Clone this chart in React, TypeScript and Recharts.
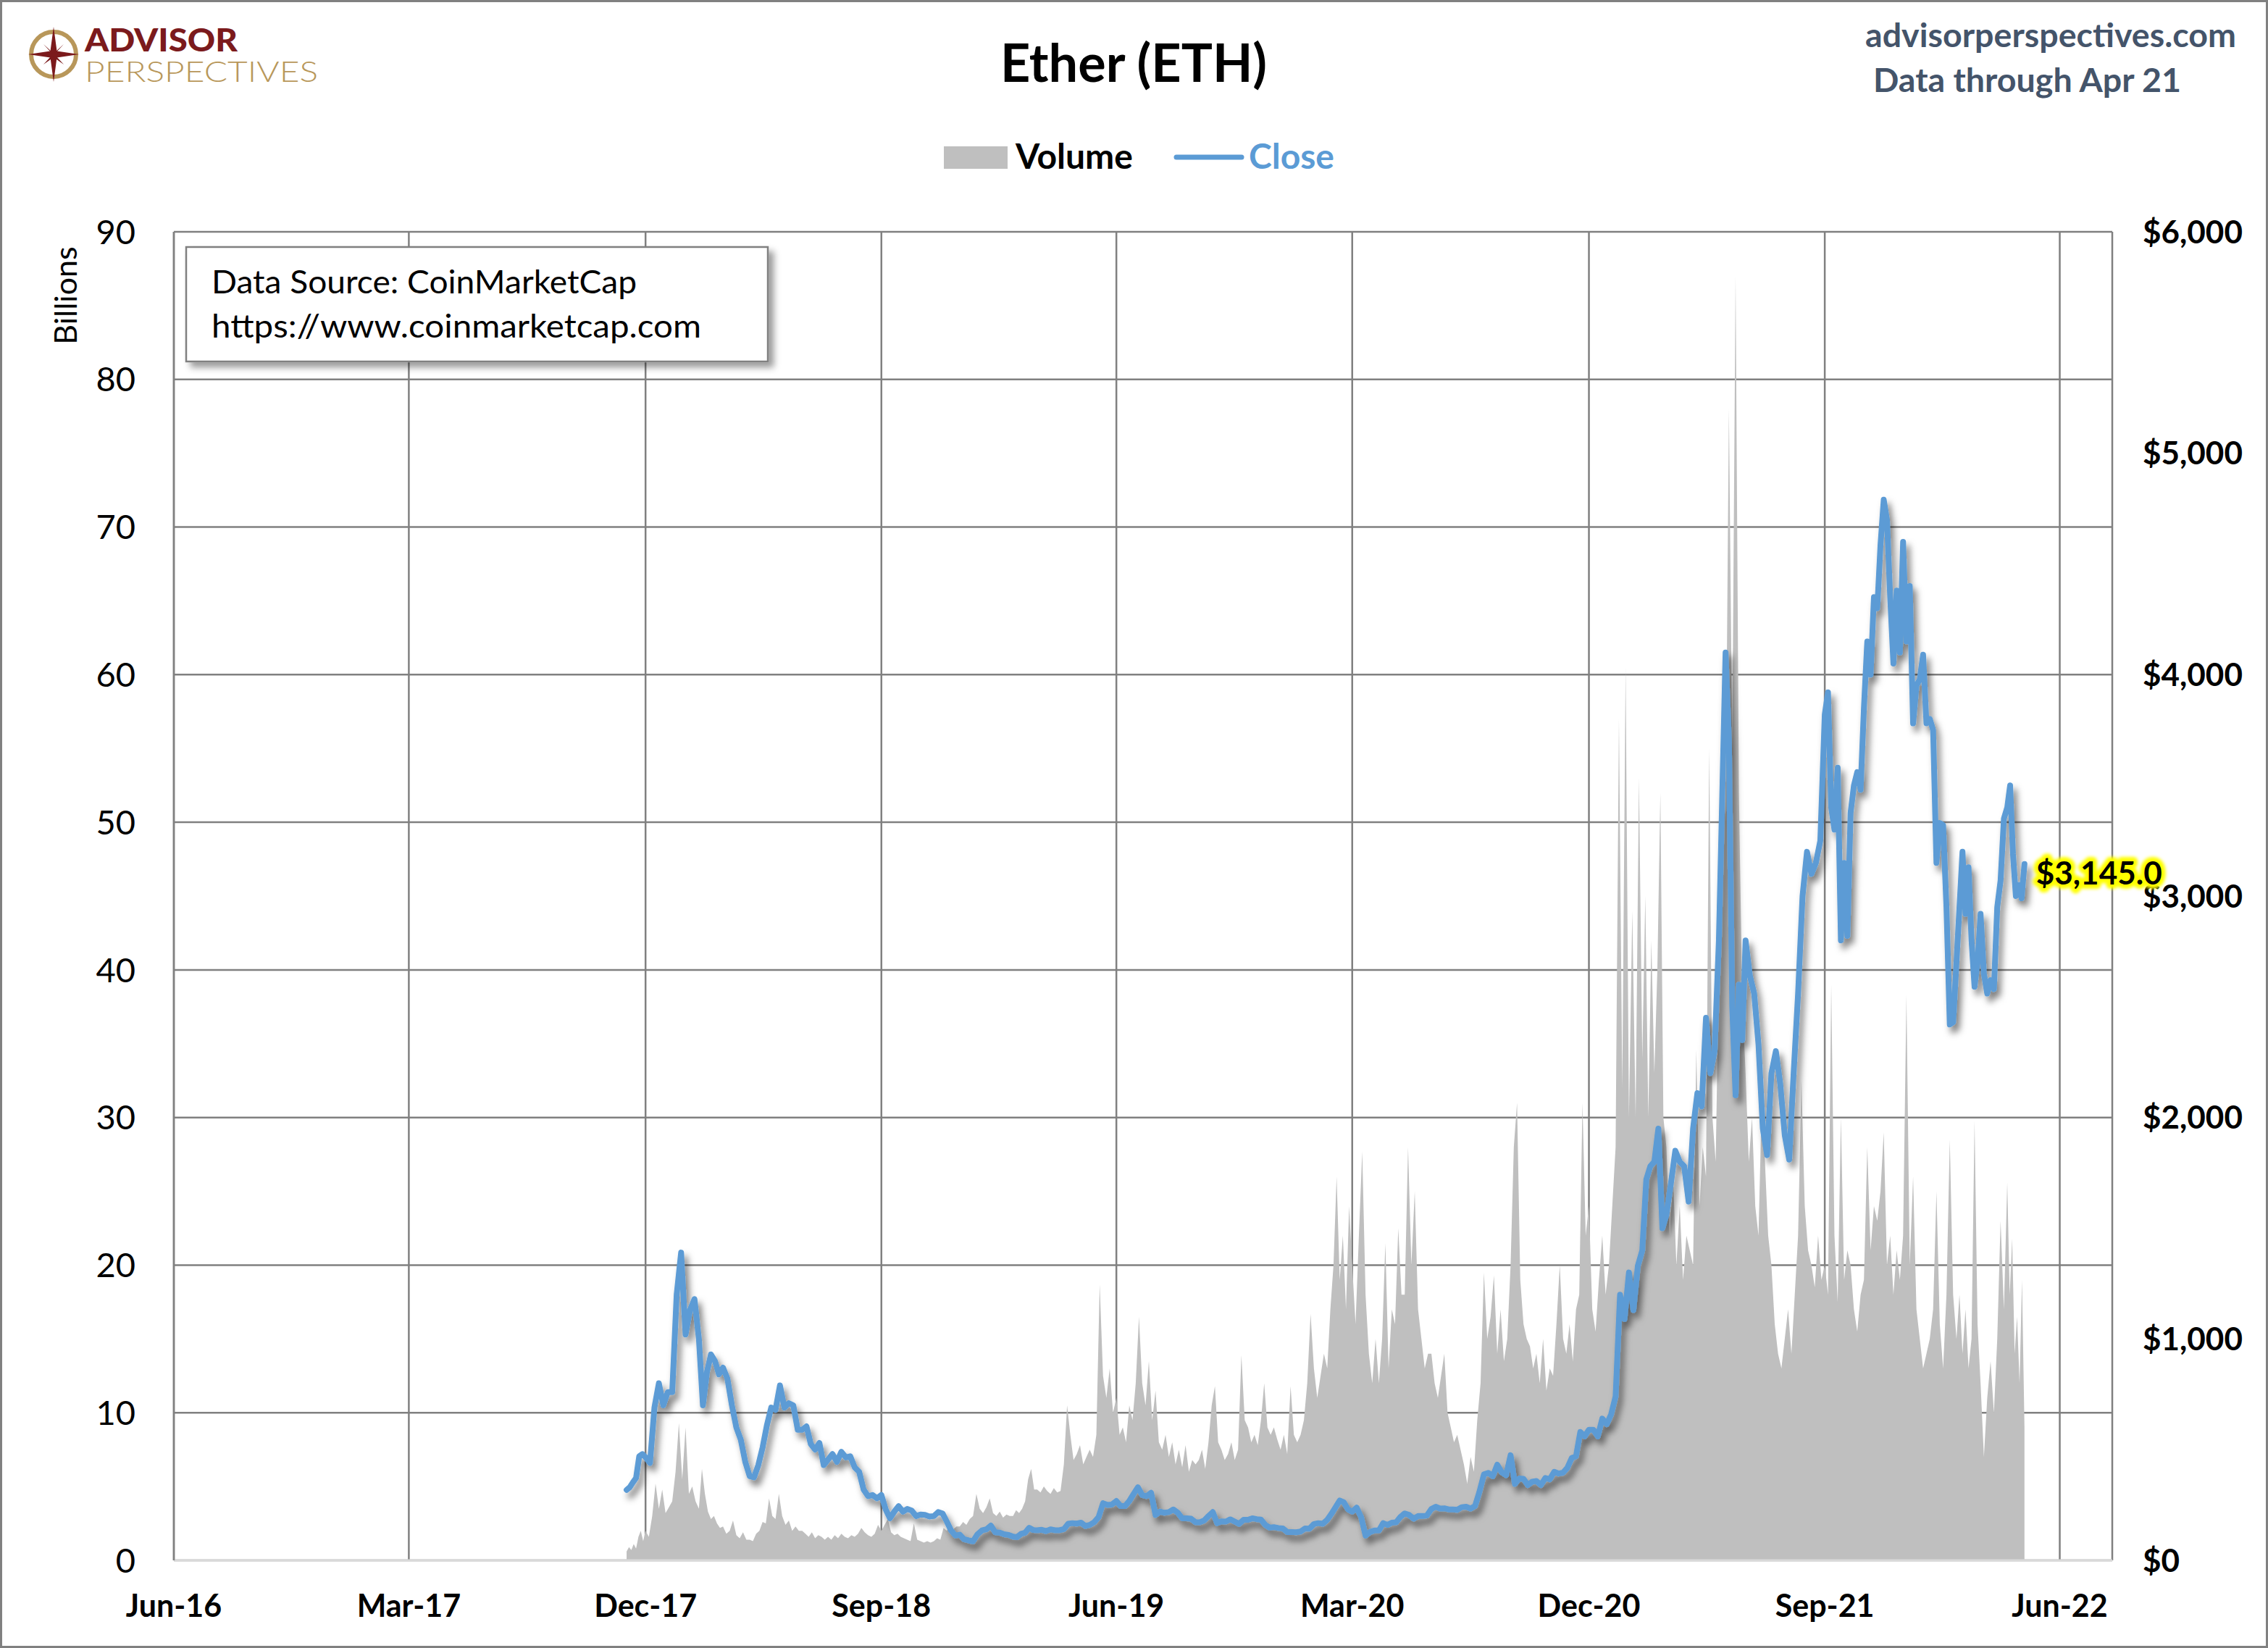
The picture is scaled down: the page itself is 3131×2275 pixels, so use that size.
import React from 'react';
import { ComposedChart, Area, Line, XAxis, YAxis, CartesianGrid } from 'recharts';

const W = 3131;
const H = 2275;
const FONT = 'Lato, "Noto Sans", "DejaVu Sans", sans-serif';

// ---- Close price (USD), values per month, evenly spread inside each month ----
// 2017: Nov (from Nov 9), Dec
const close2017 = [
  [318, 330, 352, 372, 470, 480],
  [465, 440, 690, 800, 700, 760],
];
const close2018 = [
  [760, 1200, 1390, 1020, 1130, 1180],
  [1000, 700, 850, 930, 900, 840],
  [870, 820, 700, 600, 545, 445],
  [380, 375, 430, 510, 610, 690],
  [680, 790, 690, 710, 700, 590],
  [590, 605, 525, 500, 530, 430],
  [455, 480, 445, 490, 465, 470],
  [420, 400, 320, 290, 295, 280],
  [295, 230, 190, 220, 245, 220],
  [232, 225, 200, 207, 205, 198],
  [200, 218, 212, 175, 135, 112],
  [116, 95, 90, 86, 118, 135],
];
const close2019 = [
  [140, 157, 127, 125, 118, 115],
  [107, 105, 120, 125, 147, 137],
  [136, 138, 132, 140, 136, 136],
  [141, 165, 168, 166, 170, 155],
  [160, 172, 195, 258, 250, 252],
  [268, 245, 245, 268, 300, 330],
  [295, 290, 305, 205, 220, 215],
  [218, 230, 215, 190, 190, 188],
  [172, 172, 180, 200, 218, 168],
  [176, 175, 185, 175, 165, 183],
  [183, 190, 186, 184, 160, 148],
  [150, 146, 144, 128, 128, 127],
];
const close2020 = [
  [130, 144, 143, 164, 168, 165],
  [183, 210, 240, 270, 262, 230],
  [220, 238, 195, 112, 128, 135],
  [135, 168, 160, 170, 172, 196],
  [212, 205, 188, 200, 200, 203],
  [232, 242, 234, 235, 230, 230],
  [228, 240, 242, 234, 245, 310],
  [388, 395, 380, 432, 398, 385],
  [475, 345, 370, 368, 340, 355],
  [358, 340, 372, 366, 400, 392],
  [396, 418, 462, 470, 580, 560],
  [590, 590, 560, 640, 615, 660],
];
const close2021 = [
  [740, 1200, 1090, 1300, 1130, 1330],
  [1400, 1720, 1780, 1800, 1950, 1500],
  [1560, 1700, 1850, 1800, 1780, 1620],
  [1950, 2110, 2050, 2450, 2200, 2300],
  [2800, 3450, 4100, 3700, 2500, 2100, 2600, 2350],
  [2800, 2640, 2560, 2330, 1950, 1830],
  [2200, 2300, 2150, 1920, 1810, 2200],
  [2560, 3000, 3200, 3100, 3150, 3250],
  [3820, 3920, 3400, 3300, 3580, 2800, 3150, 2820],
  [3376, 3500, 3560, 3480, 3850, 4150, 4000, 4350],
  [4300, 4585, 4790, 4700, 4350, 4050, 4380, 4100],
  [4600, 4150, 4400, 3780, 3950, 3980, 4090, 3780],
];
// 2022: Jan..Apr (Apr through the 21st)
const close2022 = [
  [3800, 3750, 3150, 3330, 3320, 2950, 2420, 2430],
  [2700, 2950, 3200, 2920, 3130, 2800, 2590, 2700],
  [2920, 2650, 2560, 2620, 2580, 2950, 3070, 3350],
  [3400, 3500, 3190, 3000, 3050, 2990, 3145],
];

// ---- Volume (billions USD), values per month ----
const vol2017 = [
  [0.6, 0.9, 0.7, 1.1, 0.8, 1.6, 2.0, 1.3],
  [2.0, 1.6, 3.0, 5.2, 3.5, 4.8, 3.2, 3.6],
];
const vol2018 = [
  [4.0, 6.0, 9.3, 5.5, 9.0, 4.5, 5.0, 4.0],
  [3.5, 6.2, 4.5, 3.3, 2.8, 3.0, 2.5, 2.2],
  [2.3, 1.8, 2.0, 2.7, 1.7, 1.5, 1.9, 1.4],
  [1.4, 1.3, 1.8, 2.0, 2.6, 2.5, 4.2, 3.0],
  [2.8, 4.5, 3.0, 2.4, 2.7, 2.0, 2.3, 2.0],
  [2.0, 1.8, 1.6, 1.9, 1.5, 1.7, 1.6, 1.4],
  [1.6, 1.4, 1.7, 1.5, 1.8, 1.6, 1.5, 1.7],
  [1.6, 1.8, 2.2, 1.9, 1.7, 1.6, 1.8, 2.4],
  [2.0, 2.4, 2.8, 1.9, 1.7, 1.8, 1.6, 1.5],
  [1.4, 1.3, 2.5, 1.4, 1.3, 1.2, 1.3, 1.2],
  [1.3, 1.5, 1.4, 2.2, 2.0, 2.5, 2.1, 2.3],
  [2.3, 2.6, 2.4, 2.8, 3.0, 4.5, 3.5, 3.2],
];
const vol2019 = [
  [3.6, 4.2, 3.2, 3.0, 3.3, 2.9, 3.1, 3.0],
  [3.0, 3.4, 3.2, 3.5, 4.0, 5.5, 6.2, 4.8],
  [4.8, 4.6, 5.0, 4.7, 4.5, 4.9, 4.6, 4.7],
  [6.5, 10.5, 8.5, 6.8, 7.2, 7.8, 6.5, 7.0],
  [7.5, 7.0, 8.5, 18.7, 12.5, 11.0, 13.0, 10.0],
  [11.0, 8.5, 9.0, 8.0, 10.5, 9.5, 12.0, 16.5],
  [12.0, 10.5, 13.5, 9.5, 11.5, 8.0, 7.5, 8.5],
  [7.0, 8.0, 6.5, 7.5, 6.3, 7.8, 6.0, 6.8],
  [6.5, 6.8, 7.5, 6.2, 8.0, 10.5, 11.8, 8.0],
  [7.5, 6.8, 7.2, 8.0, 6.8, 7.5, 13.9, 9.5],
  [9.0, 8.0, 8.5, 7.8, 9.5, 12.0, 9.0, 8.5],
  [9.0, 8.2, 7.5, 8.5, 7.2, 11.8, 8.5, 8.0],
];
const vol2020 = [
  [8.5, 9.5, 12.0, 16.7, 13.0, 11.0, 12.5, 14.0],
  [13.0, 17.0, 20.0, 26.0, 19.0, 22.0, 17.0, 24.0],
  [20.0, 16.0, 22.0, 27.7, 18.0, 14.0, 12.0, 15.0],
  [12.0, 15.0, 21.5, 13.0, 17.0, 16.0, 22.5, 18.0],
  [18.0, 28.0, 20.0, 25.0, 17.0, 15.0, 13.0, 14.0],
  [14.0, 12.0, 11.0, 12.5, 14.0, 10.0, 9.0, 8.0],
  [8.5, 7.5, 6.5, 5.2, 7.0, 6.0, 9.5, 12.0],
  [19.5, 15.0, 16.5, 19.3, 14.0, 17.0, 13.5, 15.0],
  [20.0, 28.0, 31.0, 19.0, 16.0, 15.0, 14.5, 13.0],
  [14.0, 12.0, 15.0, 11.5, 13.0, 12.5, 16.0, 20.0],
  [15.0, 14.0, 16.0, 13.5, 17.0, 18.0, 31.0, 22.0],
  [24.0, 17.0, 15.5, 19.0, 22.0, 18.0, 20.0, 24.0],
];
const vol2021 = [
  [28.0, 57.0, 32.0, 60.5, 30.0, 44.0, 30.0, 53.0],
  [34.0, 45.0, 30.0, 42.0, 33.0, 40.0, 52.0, 30.0],
  [28.0, 22.0, 26.0, 20.0, 24.0, 19.0, 22.0, 21.0],
  [20.0, 34.6, 24.0, 28.0, 26.0, 55.0, 30.0, 27.0],
  [40.0, 58.0, 50.0, 78.0, 55.0, 87.0, 52.0, 38.0],
  [33.0, 27.0, 30.0, 24.0, 22.0, 31.0, 27.0, 22.0],
  [20.0, 16.0, 14.0, 13.0, 15.0, 17.0, 14.0, 18.0],
  [22.0, 32.5, 24.0, 21.0, 20.0, 18.5, 22.0, 19.0],
  [20.0, 18.0, 39.0, 22.0, 17.5, 30.0, 19.0, 21.0],
  [20.0, 17.0, 15.5, 18.0, 19.0, 28.0, 21.0, 24.0],
  [23.0, 25.0, 29.0, 20.0, 22.0, 18.0, 21.0, 19.0],
  [22.0, 38.3, 20.0, 26.0, 17.0, 15.0, 13.0, 14.0],
];
const vol2022 = [
  [15.0, 17.0, 25.0, 16.0, 13.0, 18.0, 28.5, 18.0],
  [15.0, 18.0, 14.0, 17.0, 13.0, 15.0, 29.8, 16.0],
  [12.0, 7.0, 11.0, 13.5, 10.0, 15.0, 23.0, 17.0],
  [25.6, 18.0, 21.8, 14.0, 16.5, 12.0, 19.0, 9.0],
];

// ---- Axes ----
const LEFT_TICKS = [0, 10, 20, 30, 40, 50, 60, 70, 80, 90];
const RIGHT_TICKS = [0, 1000, 2000, 3000, 4000, 5000, 6000];
const X_TICKS = [
  Date.UTC(2016, 5, 1),
  Date.UTC(2017, 2, 1),
  Date.UTC(2017, 11, 1),
  Date.UTC(2018, 8, 1),
  Date.UTC(2019, 5, 1),
  Date.UTC(2020, 2, 1),
  Date.UTC(2020, 11, 1),
  Date.UTC(2021, 8, 1),
  Date.UTC(2022, 5, 1),
];
const X_DOMAIN = [Date.UTC(2016, 5, 1), Date.UTC(2022, 7, 1)];
const MONTH_NAMES = ['Jan', 'Feb', 'Mar', 'Apr', 'May', 'Jun', 'Jul', 'Aug', 'Sep', 'Oct', 'Nov', 'Dec'];
const LAST_CLOSE_LABEL = '$3,145.0';

// place each month's values at evenly spaced dates within that month
function expand(year: number, firstMonth: number, months: number[][], key: string) {
  const rows: any[] = [];
  months.forEach((vals, k) => {
    const m = firstMonth + k;
    const isFirst = year === 2017 && m === 10;
    const isLast = year === 2022 && m === 3;
    const start = Date.UTC(year, m, isFirst ? 9 : 1);
    const end = isLast ? Date.UTC(2022, 3, 21) : Date.UTC(year, m + 1, 1);
    const step = isLast ? (end - start) / (vals.length - 1) : (end - start) / vals.length;
    vals.forEach((v, i) => rows.push({ t: Math.round(start + i * step), [key]: v }));
  });
  return rows;
}

function buildData() {
  const all = [
    ...expand(2017, 10, close2017, 'close'),
    ...expand(2018, 0, close2018, 'close'),
    ...expand(2019, 0, close2019, 'close'),
    ...expand(2020, 0, close2020, 'close'),
    ...expand(2021, 0, close2021, 'close'),
    ...expand(2022, 0, close2022, 'close'),
    ...expand(2017, 10, vol2017, 'vol'),
    ...expand(2018, 0, vol2018, 'vol'),
    ...expand(2019, 0, vol2019, 'vol'),
    ...expand(2020, 0, vol2020, 'vol'),
    ...expand(2021, 0, vol2021, 'vol'),
    ...expand(2022, 0, vol2022, 'vol'),
  ];
  const map = new Map<number, any>();
  all.forEach((r) => {
    const ex = map.get(r.t);
    if (ex) Object.assign(ex, r);
    else map.set(r.t, { ...r });
  });
  return Array.from(map.values()).sort((a, b) => a.t - b.t);
}

const DATA = buildData();
const LAST_INDEX = DATA.length - 1;

const fmtDate = (v: number) => {
  const d = new Date(v);
  const yy = String(d.getUTCFullYear() % 100).padStart(2, '0');
  return `${MONTH_NAMES[d.getUTCMonth()]}-${yy}`;
};
const fmtDollar = (v: number) => '$' + v.toLocaleString('en-US');

const renderLastLabel = (props: any) => {
  const { x, y, index } = props;
  if (index !== LAST_INDEX || x == null || y == null) return <g key={`l-${index}`} />;
  const tx = x + 16;
  const ty = y + 28;
  return (
    <g key="last-label">
      <text
        x={tx}
        y={ty}
        fontFamily={FONT}
        fontSize={44}
        fontWeight={700}
        fill="#FFFF00"
        stroke="#FFFF00"
        strokeWidth={12}
        strokeLinejoin="round"
        style={{ filter: 'url(#glowBlur)' }}
      >
        {LAST_CLOSE_LABEL}
      </text>
      <text x={tx} y={ty} fontFamily={FONT} fontSize={44} fontWeight={700} fill="#000">
        {LAST_CLOSE_LABEL}
      </text>
    </g>
  );
};

export default function App() {
  return (
    <div
      style={{
        position: 'absolute',
        left: 0,
        top: 0,
        width: W,
        height: H,
        background: '#fff',
        fontFamily: FONT,
        overflow: 'hidden',
      }}
    >
      <style>{`.close-line path.recharts-curve, .close-line .recharts-line-curve { filter: url(#lineShadow); }`}</style>
      <svg width={0} height={0} style={{ position: 'absolute' }}>
        <defs>
          <filter id="lineShadow" filterUnits="userSpaceOnUse" x="0" y="0" width={W} height={H}>
            <feDropShadow dx="5" dy="8" stdDeviation="5" floodColor="#000" floodOpacity="0.5" />
          </filter>
          <filter id="glowBlur" x="-10%" y="-30%" width="120%" height="160%">
            <feGaussianBlur stdDeviation="2" />
          </filter>
          <filter id="boxShadow" x="-5%" y="-10%" width="115%" height="130%">
            <feDropShadow dx="7" dy="7" stdDeviation="5" floodColor="#000" floodOpacity="0.4" />
          </filter>
        </defs>
      </svg>

      <div style={{ position: 'absolute', left: 0, top: 0 }}>
        <ComposedChart width={W} height={H} data={DATA} margin={{ top: 320, right: 0, bottom: 0, left: 0 }}>
          <CartesianGrid yAxisId="left" stroke="#808080" strokeWidth={2.5} />
          <XAxis
            dataKey="t"
            type="number"
            domain={X_DOMAIN}
            ticks={X_TICKS}
            allowDataOverflow
            height={121}
            tickFormatter={fmtDate}
            axisLine={{ stroke: '#D9D9D9', strokeWidth: 3 }}
            tickLine={false}
            tickSize={0}
            tickMargin={47}
            tick={{ fontFamily: FONT, fontSize: 43, fontWeight: 700, fill: '#000' }}
            interval={0}
          />
          <YAxis
            yAxisId="left"
            width={240}
            domain={[0, 90]}
            ticks={LEFT_TICKS}
            allowDataOverflow
            axisLine={{ stroke: '#808080', strokeWidth: 2.5 }}
            tickLine={false}
            tickSize={0}
            tickMargin={53}
            tick={{ fontFamily: FONT, fontSize: 47, fill: '#000' }}
            interval={0}
          />
          <YAxis
            yAxisId="right"
            orientation="right"
            width={215}
            domain={[0, 6000]}
            ticks={RIGHT_TICKS}
            allowDataOverflow
            axisLine={false}
            tickLine={false}
            tickSize={0}
            tickMargin={42}
            tickFormatter={fmtDollar}
            tick={{ fontFamily: FONT, fontSize: 44, fontWeight: 700, fill: '#000' }}
            interval={0}
          />
          <Area
            yAxisId="left"
            dataKey="vol"
            type="linear"
            fill="#BFBFBF"
            fillOpacity={1}
            stroke="none"
            connectNulls
            isAnimationActive={false}
            dot={false}
            activeDot={false}
          />
          <Line
            yAxisId="right"
            dataKey="close"
            type="linear"
            stroke="#5B9BD5"
            strokeWidth={8}
            strokeLinejoin="round"
            strokeLinecap="round"
            dot={false}
            activeDot={false}
            connectNulls
            isAnimationActive={false}
            className="close-line"
            filter="url(#lineShadow)"
            label={renderLastLabel}
          />
        </ComposedChart>
      </div>

      <svg
        width={W}
        height={H}
        style={{ position: 'absolute', left: 0, top: 0, pointerEvents: 'none' }}
      >
        {/* outer border */}
        <rect x={1.5} y={1.5} width={W - 3} height={H - 3} fill="none" stroke="#808080" strokeWidth={3} />

        {/* logo */}
        <circle cx={74} cy={75} r={31} fill="none" stroke="#B8975A" strokeWidth={6} />
        <polygon
          points="74,37 78.5,70.5 109,75 78.5,79.5 74,113 69.5,79.5 39,75 69.5,70.5"
          fill="#7B1A1C"
        />
        <polygon points="88,61 77,73 74,75 71,73 60,61 72,72 74,75 76,72" fill="#7B1A1C" />
        <polygon points="88,89 77,77 60,89 71,77" fill="#7B1A1C" />
        <text
          x={117}
          y={71}
          fontFamily={FONT}
          fontWeight={900}
          fontSize={44}
          fill="#7B1A1C"
          textLength={211}
          lengthAdjust="spacingAndGlyphs"
        >
          ADVISOR
        </text>
        <text
          x={117}
          y={113}
          fontFamily={FONT}
          fontWeight={300}
          fontSize={40}
          fill="#B8975A"
          textLength={322}
          lengthAdjust="spacingAndGlyphs"
        >
          PERSPECTIVES
        </text>

        {/* title */}
        <text x={1565} y={113} textAnchor="middle" fontFamily={FONT} fontWeight={700} fontSize={72} fill="#000">
          Ether (ETH)
        </text>

        {/* top-right */}
        <text
          x={2575}
          y={65}
          fontFamily={FONT}
          fontWeight={700}
          fontSize={46}
          fill="#44546A"
          textLength={512}
          lengthAdjust="spacingAndGlyphs"
        >
          advisorperspectives.com
        </text>
        <text
          x={2586}
          y={127}
          fontFamily={FONT}
          fontWeight={700}
          fontSize={46}
          fill="#44546A"
          textLength={425}
          lengthAdjust="spacingAndGlyphs"
        >
          Data through Apr 21
        </text>

        {/* legend */}
        <rect x={1303} y={202} width={88} height={31} fill="#BFBFBF" />
        <text x={1402} y={233} fontFamily={FONT} fontWeight={700} fontSize={48} fill="#000">
          Volume
        </text>
        <line x1={1624} y1={217} x2={1714} y2={217} stroke="#5B9BD5" strokeWidth={7} strokeLinecap="round" />
        <text x={1724} y={233} fontFamily={FONT} fontWeight={700} fontSize={48} fill="#5B9BD5">
          Close
        </text>

        {/* left axis title */}
        <text
          x={106}
          y={408}
          textAnchor="middle"
          fontFamily={FONT}
          fontSize={43}
          fill="#000"
          transform="rotate(-90 106 408)"
        >
          Billions
        </text>

        {/* data source box */}
        <rect
          x={257}
          y={341}
          width={803}
          height={158}
          fill="#fff"
          stroke="#808080"
          strokeWidth={2.5}
          style={{ filter: 'url(#boxShadow)' }}
        />
        <text
          x={292}
          y={405}
          fontFamily={FONT}
          fontSize={44}
          fill="#000"
          textLength={587}
          lengthAdjust="spacingAndGlyphs"
        >
          Data Source: CoinMarketCap
        </text>
        <text
          x={292}
          y={466}
          fontFamily={FONT}
          fontSize={44}
          fill="#000"
          textLength={676}
          lengthAdjust="spacingAndGlyphs"
        >
          https://www.coinmarketcap.com
        </text>
      </svg>
    </div>
  );
}
